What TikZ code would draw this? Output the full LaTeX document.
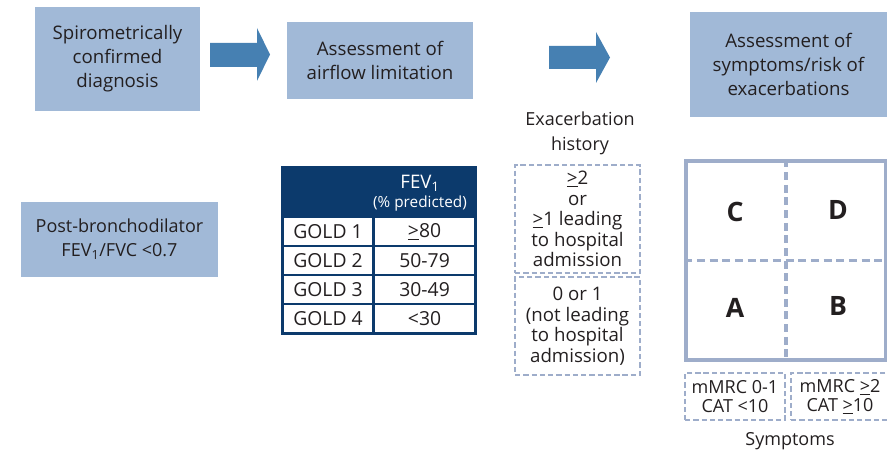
\documentclass[tikz,border=0pt]{standalone}
\usepackage{fontspec}
\setmainfont{Open Sans}
\usetikzlibrary{positioning}
\definecolor{boxblue}{RGB}{161,185,215}
\definecolor{arrowblue}{RGB}{70,128,178}
\definecolor{navy}{RGB}{12,58,108}
\definecolor{dashgray}{RGB}{158,173,202}
\definecolor{inkdark}{RGB}{35,31,32}

\begin{document}
\begin{tikzpicture}[
  x=0.75pt, y=-0.75pt,
  every node/.style={text=inkdark},
  stepbox/.style={fill=boxblue, align=center, inner sep=0pt, font=\fontsize{14}{18}\selectfont},
  blockarrow/.style={fill=arrowblue},
  cell/.style={draw=navy, line width=0.8pt, fill=white, inner sep=0pt, minimum height=21.75pt, font=\fontsize{14.5}{16}\selectfont},
  dashbox/.style={draw=dashgray, line width=1.4pt, dash pattern=on 4pt off 2.2pt, align=center, inner sep=0pt, minimum width=93.75pt, font=\fontsize{14}{15.4}\selectfont},
  quadlabel/.style={font=\fontsize{20}{22}\bfseries\selectfont},
  plain/.style={align=center, font=\fontsize{13.5}{18.5}\selectfont}
]
\useasboundingbox (0,0) rectangle (887,459);

% top row
\node[stepbox, minimum width=123.75pt, minimum height=78pt] (diag) at (117.5,59) {Spirometrically\\confirmed\\diagnosis};
\node[stepbox, minimum width=139.5pt, minimum height=57.75pt] (airflow) at (380,60.5) {Assessment of\\airflow limitation};
\node[stepbox, minimum width=147.75pt, minimum height=78.75pt] (symrisk) at (788.5,64.5) {Assessment of\\symptoms/risk of\\exacerbations};
\fill[blockarrow] (210,43) -- (257,43) -- (257,28) -- (270,54.5) -- (257,81) -- (257,67) -- (210,67) -- cycle;
\fill[blockarrow] (549,46) -- (596,46) -- (596,32) -- (610,57.5) -- (596,83) -- (596,69) -- (549,69) -- cycle;

% left
\node[stepbox, minimum width=148pt, minimum height=56pt, font=\fontsize{13.5}{18}\selectfont] (postbd) at (119.5,239.5) {Post-bronchodilator\\FEV\textsubscript{1}/FVC <0.7};

% GOLD table
\node[fill=navy, minimum width=144pt, minimum height=36.75pt, inner sep=0pt] (fevhead) at (378.5,192.5) {};
\node[text=white, inner sep=0pt, font=\fontsize{14}{16}\selectfont] (fevtxt) at (420,183) {FEV\textsubscript{1}};
\node[text=white, inner sep=0pt, font=\fontsize{11.5}{13}\selectfont] (predtxt) at (420,204) {(\% predicted)};
\foreach \lab/\val [count=\i] in {GOLD 1/{\underline{>}80}, GOLD 2/50-79, GOLD 3/30-49, GOLD 4/<30} {
  \node[cell, minimum width=67.5pt] (gold\i) at (328,{202.5+29*\i}) {\lab};
  \node[cell, minimum width=75.75pt, anchor=west] (val\i) at (gold\i.east) {\val};
}
\draw[navy, line width=2pt] (fevhead.north west) rectangle (val4.south east);

% exacerbation history
\node[plain] (exhist) at (580,133) {Exacerbation\\history};
\node[dashbox, minimum height=81pt] (highrisk) at (577.5,219) {\underline{>}2\\or\\\underline{>}1 leading\\to hospital\\admission};
\node[dashbox, minimum height=73.5pt] (lowrisk) at (577.5,326) {0 or 1\\(not leading\\to hospital\\admission)};

% ABCD grid
\node[draw=dashgray, line width=2.6pt, fill=white, minimum width=150pt, minimum height=149pt, inner sep=0pt] (grid) at (786,260.5) {};
\draw[dashgray, line width=2.6pt, dash pattern=on 6pt off 3.5pt] (grid.north) -- (grid.south);
\draw[dashgray, line width=2.6pt, dash pattern=on 6pt off 3.5pt] (grid.west) -- (grid.east);
\node[quadlabel] (qc) at (735,212) {C};
\node[quadlabel] (qd) at (838,210) {D};
\node[quadlabel] (qa) at (735,308) {A};
\node[quadlabel] (qb) at (838,306) {B};

% symptoms
\node[dashbox, minimum width=75pt, minimum height=35.25pt, font=\fontsize{13.5}{14.5}\selectfont] (lowsym) at (735,396.5) {mMRC 0-1\\CAT <10};
\node[dashbox, minimum width=73.5pt, minimum height=35.25pt, font=\fontsize{13.5}{14.5}\selectfont] (highsym) at (840,396.5) {mMRC \underline{>}2\\CAT \underline{>}10};
\node[plain] (symptoms) at (790,441) {Symptoms};
\end{tikzpicture}
\end{document}
